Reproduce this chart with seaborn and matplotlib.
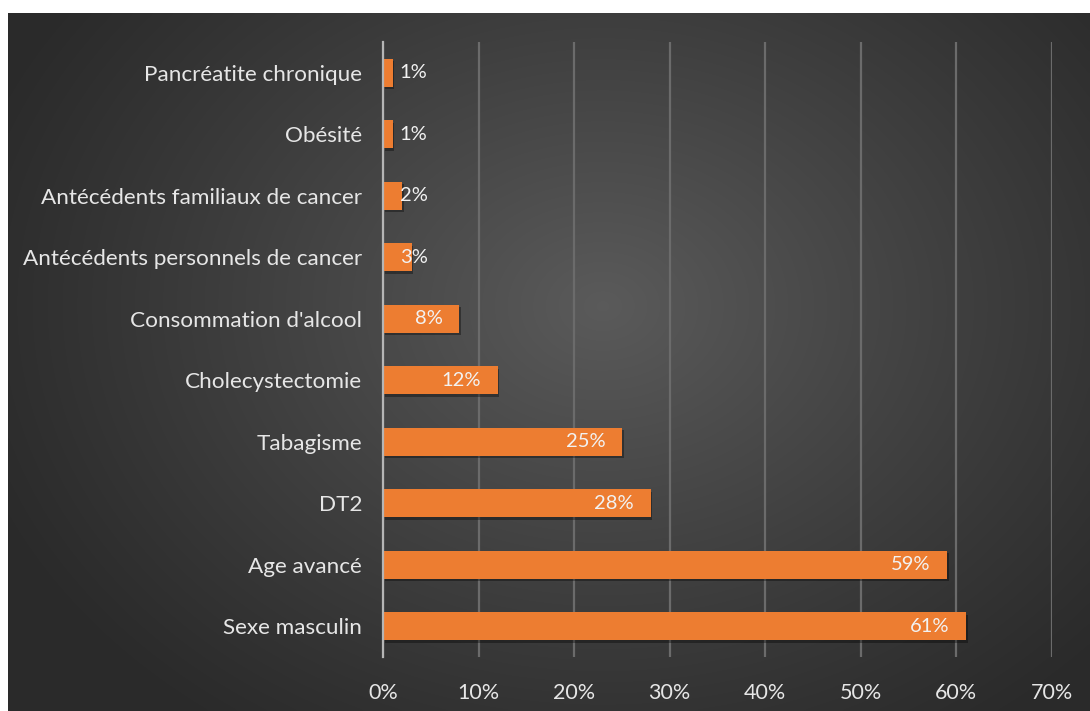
import numpy as np
import pandas as pd
import matplotlib
matplotlib.use("Agg")
import matplotlib.pyplot as plt
import matplotlib.patheffects as pe
import seaborn as sns

categories = [
    "Pancréatite chronique",
    "Obésité",
    "Antécédents familiaux de cancer",
    "Antécédents personnels de cancer",
    "Consommation d'alcool",
    "Cholecystectomie",
    "Tabagisme",
    "DT2",
    "Age avancé",
    "Sexe masculin",
]
values = [1, 1, 2, 3, 8, 12, 25, 28, 59, 61]
x_ticks = [0, 10, 20, 30, 40, 50, 60, 70]
x_tick_labels = ["0%", "10%", "20%", "30%", "40%", "50%", "60%", "70%"]

df = pd.DataFrame({"facteur": categories, "pct": values})

sns.set_theme(style="dark")
plt.rcParams["font.family"] = ["Lato", "DejaVu Sans"]

W, H, DPI = 1090, 711, 100
fig = plt.figure(figsize=(W / DPI, H / DPI), dpi=DPI, facecolor="white")

# dark panel with a soft radial light in the middle
bg = fig.add_axes([8 / W, 0, 1 - 8 / W, 1 - 13 / H])
bg.set_axis_off()
yy, xx = np.mgrid[0:1:300j, 0:1:460j]
r = np.sqrt(((xx - 0.55) / 0.62) ** 2 + ((yy - 0.42) / 0.75) ** 2)
shade = np.clip(1 - r, 0, 1) ** 1.1
level = 0.165 + 0.19 * shade
img = np.dstack([level, level, level])
bg.imshow(img, aspect="auto", extent=[0, 1, 1, 0], interpolation="bicubic")

ax = fig.add_axes([383 / W, 1 - 657 / H, (1052 - 383) / W, (657 - 42) / H])
ax.patch.set_alpha(0)

sns.barplot(data=df, y="facteur", x="pct", orient="h", color="#ED7D31",
            saturation=1, width=0.46, ax=ax, zorder=3)
for bar in ax.patches:
    bar.set_path_effects([pe.SimplePatchShadow(offset=(1.2, -1.8), alpha=0.35,
                                               shadow_rgbFace="black"),
                          pe.Normal()])
    bar.set_edgecolor("none")

ax.set_xlim(0, 70)
ax.set_ylim(9.5, -0.5)
ax.set_xticks(x_ticks)
ax.set_xticklabels(x_tick_labels)
ax.grid(axis="x", color="#6b6b6b", linewidth=1.6, zorder=0)
ax.grid(axis="y", visible=False)
ax.set_xlabel("")
ax.set_ylabel("")
for s in ["top", "right", "bottom"]:
    ax.spines[s].set_visible(False)
ax.spines["left"].set_color("#b5b5b5")
ax.spines["left"].set_linewidth(1.6)
ax.spines["left"].set_zorder(4)
ax.tick_params(axis="y", length=0, pad=15, labelsize=16.2, labelcolor="#e6e6e6")
ax.tick_params(axis="x", length=0, pad=19, labelsize=15.5, labelcolor="#e6e6e6")

# percentage labels at the inner end of each bar
px_per_unit = (1052 - 383) / 70
for i, v in enumerate(values):
    label = f"{v}%"
    if v * px_per_unit > 64:
        ax.annotate(label, xy=(v, i), xytext=(-12, 0), textcoords="offset points",
                    ha="right", va="center", fontsize=14.5, color="#f2f2f2", zorder=5)
    else:
        ax.annotate(label, xy=(0, i), xytext=(12, 0), textcoords="offset points",
                    ha="left", va="center", fontsize=14.5, color="#f2f2f2", zorder=5)

fig.savefig("out.png", dpi=DPI, facecolor="white")
